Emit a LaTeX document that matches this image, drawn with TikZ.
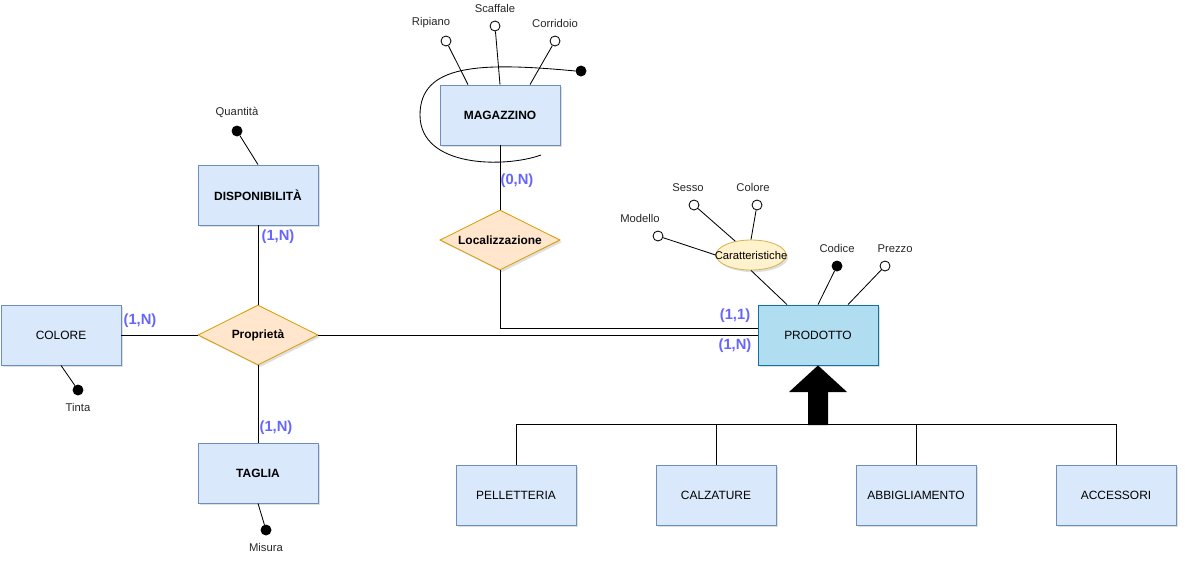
\documentclass[tikz,border=0pt]{standalone}
\usepackage{fontspec}
\setmainfont{Liberation Sans}
\usetikzlibrary{shapes.geometric,shadows}

\definecolor{entfill}{HTML}{DAE8FC}
\definecolor{entdraw}{HTML}{6C8EBF}
\definecolor{prodfill}{HTML}{B1DDF0}
\definecolor{proddraw}{HTML}{10739E}
\definecolor{relfill}{HTML}{FFE6CC}
\definecolor{reldraw}{HTML}{D79B00}
\definecolor{carfill}{HTML}{FFF2CC}
\definecolor{cardraw}{HTML}{D6B656}
\definecolor{cardblue}{RGB}{102,102,255}

\tikzset{
  shade/.style={drop shadow={shadow xshift=1.5pt, shadow yshift=-1.5pt, opacity=0.25}},
  ent/.style={rectangle, draw=entdraw, fill=entfill, shade, minimum width=3cm, minimum height=1.5cm,
    font=\fontsize{8.5}{10}\selectfont},
  entb/.style={ent, font=\fontsize{8.5}{10}\selectfont\bfseries},
  prodbox/.style={ent, draw=proddraw, fill=prodfill},
  rel/.style={diamond, aspect=2, draw=reldraw, fill=relfill, shade, minimum width=3cm, minimum height=1.5cm,
    inner sep=0pt, font=\fontsize{8.5}{10}\selectfont\bfseries},
  attr/.style={circle, draw, fill=white, minimum size=0.25cm, inner sep=0pt},
  keyattr/.style={attr, fill=black},
  card/.style={text=cardblue, inner sep=1pt, font=\fontsize{10.5}{12}\selectfont\bfseries},
  every label/.style={font=\fontsize{8}{10}\selectfont, text=black!85},
  label distance=2pt
}

\begin{document}
\begin{tikzpicture}[x=0.025cm, y=-0.025cm, line width=0.6pt]
\useasboundingbox (0,0) rectangle (1187,567);

% entita
\node[entb] (mag) at (500,115) {MAGAZZINO};
\node[entb] (disp) at (258,195) {DISPONIBILITÀ};
\node[ent] (colore) at (61,335) {COLORE};
\node[entb] (taglia) at (258,473) {TAGLIA};
\node[prodbox] (prod) at (818,335) {PRODOTTO};
\node[ent] (pel) at (516,495) {PELLETTERIA};
\node[ent] (cal) at (716,495) {CALZATURE};
\node[ent] (abb) at (916,495) {ABBIGLIAMENTO};
\node[ent] (acc) at (1116,495) {ACCESSORI};

% relazioni
\node[rel] (prop) at (258,335) {Proprietà};
\node[rel] (loc) at (500,240) {Localizzazione};

% attributo composto
\node[ellipse, draw=cardraw, fill=carfill, shade, minimum width=1.75cm, minimum height=0.75cm, inner sep=0pt] (car) at (751,255) {};
\node[font=\fontsize{8}{9}\selectfont, inner sep=0pt] (cartxt) at (car) {Caratteristiche};

% attributi
\node[attr, label={[xshift=-0.375cm]above:Ripiano}] (rip) at (446,41) {};
\node[attr, label=above:Scaffale] (scaf) at (495,26) {};
\node[attr, label=above:Corridoio] (corr) at (555,41) {};
\node[keyattr] (mk) at (581,71) {};
\node[keyattr, label=above:Quantità] (quant) at (237,131) {};
\node[keyattr, label=below:Tinta] (tinta) at (78,390) {};
\node[keyattr, label=below:Misura] (misura) at (266,530) {};
\node[attr, label={[xshift=-0.45cm]above:Modello}] (modello) at (658,236) {};
\node[attr, label={[xshift=-0.15cm]above:Sesso}] (sesso) at (694,205) {};
\node[attr, label={[xshift=-0.1cm]above:Colore}] (colp) at (757,205) {};
\node[keyattr, label=above:Codice] (codice) at (837,266) {};
\node[attr, label={[xshift=0.25cm]above:Prezzo}] (prezzo) at (885,266) {};

\draw (rip) -- ([xshift=-0.8cm]mag.north);
\draw (scaf) -- (mag.north);
\draw (corr) -- ([xshift=0.75cm]mag.north);
\coordinate (mkend) at (541,155);
\draw (mk.west) .. controls (480,62) and (420,64) .. (420,115)
  .. controls (420,168) and (505,168) .. (mkend);
\draw (quant) -- (disp.north);
\draw (tinta) -- (colore.south);
\draw (misura) -- (taglia.south);
\draw (modello) -- (car.west);
\draw (sesso) -- (car);
\draw (colp) -- (car.north);
\draw (car.south) -- ([xshift=-0.775cm]prod.north);
\draw (codice) -- (prod.north);
\draw (prezzo) -- ([xshift=0.75cm]prod.north);

% collegamenti
\draw (mag) -- (loc);
\draw (loc) |- ([yshift=0.175cm]prod.west);
\draw (prop) -- (prod);
\draw (prop) -- (colore);
\draw (prop) -- (disp);
\draw (prop) -- (taglia);

\node[card] (c1) at (517,181) {(0,N)};
\node[card] (c2) at (278,237) {(1,N)};
\node[card] (c3) at (140,321) {(1,N)};
\node[card] (c4) at (276,428) {(1,N)};
\node[card] (c5) at (735,316) {(1,1)};
\node[card] (c6) at (735,346) {(1,N)};

% generalizzazione
\draw (pel) -- ([yshift=1cm]pel.north) -| (acc);
\draw (cal) -- ([yshift=1cm]cal.north);
\draw (abb) -- ([yshift=1cm]abb.north);
\fill (808,425) -- (808,392) -- (789,392) -- (prod.south) -- (847,392) -- (828,392) -- (828,425) -- cycle;
\end{tikzpicture}
\end{document}
